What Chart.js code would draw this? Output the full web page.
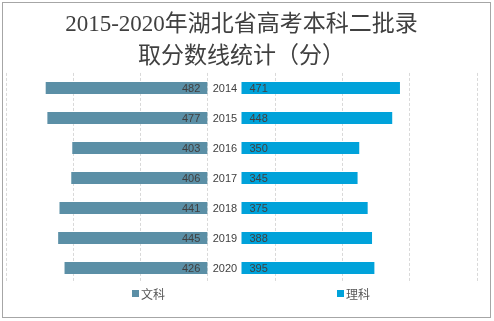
<!DOCTYPE html>
<html>
<head>
<meta charset="utf-8">
<script src="https://cdn.jsdelivr.net/npm/chart.js@4"></script>
<style>
  html, body { margin: 0; padding: 0; background: #fff; }
  #wrap { width: 494px; height: 321px; position: relative; }
</style>
</head>
<body>
<div id="wrap"><canvas id="myChart"></canvas></div>
<script>
const years = ["2014", "2015", "2016", "2017", "2018", "2019", "2020"];
const wenke = [482, 477, 403, 406, 441, 445, 426];
const like = [471, 448, 350, 345, 375, 388, 395];
// invisible spacer in the middle that holds the year labels
const spacer = [100, 100, 100, 100, 100, 100, 100];

const textColor = "#404040";
const colorWen = "#5b8fa6";
const colorLi = "#00a2da";

const borderPlugin = {
  id: "frame",
  beforeDraw(chart) {
    const ctx = chart.ctx;
    ctx.save();
    ctx.fillStyle = "#fff";
    ctx.fillRect(0, 0, chart.width, chart.height);
    ctx.strokeStyle = "#a6a6a6";
    ctx.lineWidth = 1;
    ctx.strokeRect(2.5, 2.5, 488, 315);
    ctx.restore();
  },
};

const labelPlugin = {
  id: "barLabels",
  afterDatasetsDraw(chart) {
    const ctx = chart.ctx;
    const mWen = chart.getDatasetMeta(0);
    const mGap = chart.getDatasetMeta(1);
    const mLi = chart.getDatasetMeta(2);
    ctx.save();
    ctx.font = '11px "Liberation Sans", Arial, sans-serif';
    ctx.fillStyle = textColor;
    ctx.textBaseline = "middle";
    mWen.data.forEach((bar, i) => {
      ctx.textAlign = "right";
      ctx.fillText(wenke[i], bar.base - 7, bar.y + 1);
      const g = mGap.data[i];
      ctx.textAlign = "center";
      ctx.fillText(years[i], (g.base + g.x) / 2, g.y + 1);
      const r = mLi.data[i];
      ctx.textAlign = "left";
      ctx.fillText(like[i], r.base + 8, r.y + 1);
    });

    // legend under the plot
    const items = [
      { text: "文科", color: colorWen, x: 132 },
      { text: "理科", color: colorLi, x: 337 },
    ];
    ctx.font = '12px "Noto Sans CJK SC", sans-serif';
    ctx.fillStyle = "#595959";
    items.forEach((it) => {
      ctx.fillStyle = it.color;
      ctx.fillRect(it.x, 290, 7, 7);
      ctx.fillStyle = "#595959";
      ctx.textAlign = "left";
      ctx.fillText(it.text, it.x + 9, 294);
    });
    ctx.restore();
  },
};

new Chart(document.getElementById("myChart"), {
  type: "bar",
  data: {
    labels: years,
    datasets: [
      {
        label: "文科",
        data: wenke.map((v) => -v),
        backgroundColor: colorWen,
      },
      {
        label: "",
        data: spacer,
        backgroundColor: "rgba(0,0,0,0)",
      },
      {
        label: "理科",
        data: like,
        backgroundColor: colorLi,
      },
    ],
  },
  options: {
    indexAxis: "y",
    responsive: true,
    maintainAspectRatio: false,
    animation: false,
    barPercentage: 0.4,
    categoryPercentage: 1,
    layout: {
      padding: { left: 6, right: 17, top: 0, bottom: 38 },
    },
    plugins: {
      legend: { display: false },
      tooltip: { enabled: false },
      title: {
        display: true,
        text: ["2015-2020年湖北省高考本科二批录", "取分数线统计（分）"],
        color: textColor,
        font: {
          family: '"Liberation Serif", "Noto Sans CJK SC", serif',
          size: 23,
          weight: "normal",
          lineHeight: 1.39,
        },
        padding: { top: 9, bottom: 0 },
      },
    },
    scales: {
      x: {
        stacked: true,
        min: -600,
        max: 800,
        ticks: { display: false, stepSize: 200 },
        grid: {
          color: "#d9d9d9",
          drawTicks: false,
        },
        border: { display: false, dash: [3, 2] },
      },
      y: {
        stacked: true,
        display: false,
      },
    },
  },
  plugins: [borderPlugin, labelPlugin],
});
</script>
</body>
</html>
